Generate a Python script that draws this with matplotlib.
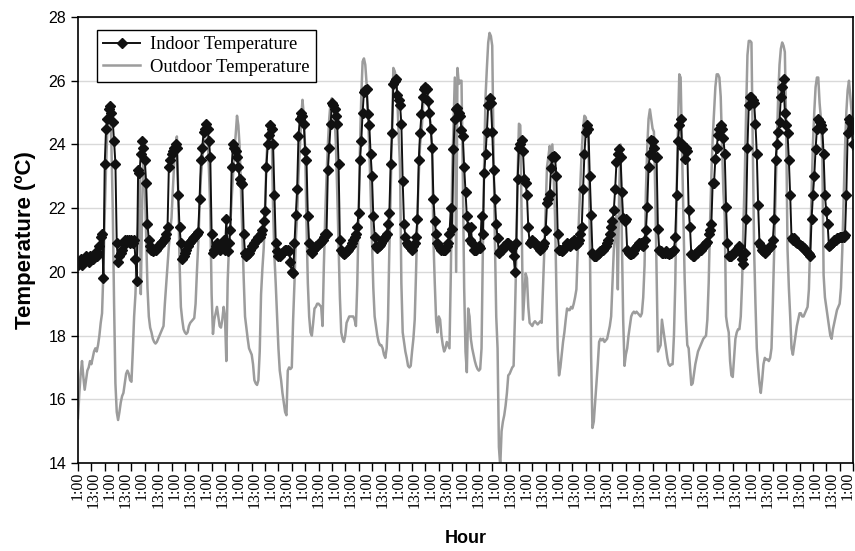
import matplotlib
matplotlib.use("Agg")
import matplotlib.pyplot as plt
import numpy as np

# hourly readings, one row per 24 h (starting 1:00)
indoor_temp = [
    20.2, 20.3, 20.4, 20.2, 20.3, 20.4, 20.5, 20.4, 20.3, 20.5, 20.4, 20.4, 20.5, 20.6, 20.5, 20.6, 20.8, 21.1, 21.2, 19.8, 23.4, 24.5, 24.8, 25.1,
    25.2, 25.0, 24.7, 24.1, 23.4, 20.9, 20.3, 20.5, 20.6, 20.7, 20.9, 21.0, 20.9, 21.0, 21.0, 20.9, 21.0, 20.9, 21.0, 20.4, 19.7, 23.2, 23.1, 23.7,
    24.1, 23.9, 23.5, 22.8, 21.5, 21.0, 20.8, 20.7, 20.65, 20.7, 20.7, 20.75, 20.8, 20.85, 20.9, 20.95, 21.0, 21.05, 21.2, 21.4, 23.3, 23.5, 23.7, 23.8,
    23.9, 24.0, 23.9, 22.4, 21.4, 20.9, 20.4, 20.5, 20.6, 20.7, 20.8, 20.9, 20.95, 21.0, 21.05, 21.1, 21.15, 21.2, 21.25, 22.3, 23.5, 23.9, 24.4, 24.5,
    24.65, 24.5, 24.1, 23.6, 21.2, 20.6, 20.7, 20.8, 20.9, 20.8, 20.7, 20.8, 20.9, 21.0, 20.7, 21.65, 20.65, 20.9, 21.3, 23.3, 24.0, 23.9, 23.8, 23.6,
    23.3, 22.9, 22.8, 22.75, 21.2, 20.6, 20.5, 20.55, 20.6, 20.7, 20.8, 20.8, 20.9, 21.0, 21.0, 21.1, 21.1, 21.2, 21.3, 21.6, 21.9, 23.3, 24.0, 24.3,
    24.6, 24.5, 24.0, 22.4, 20.9, 20.65, 20.5, 20.5, 20.55, 20.6, 20.65, 20.7, 20.7, 20.7, 20.65, 20.3, 20.0, 19.95, 20.9, 21.8, 22.6, 24.25, 24.8, 25.0,
    24.9, 24.65, 23.8, 23.5, 21.75, 20.9, 20.65, 20.6, 20.7, 20.75, 20.8, 20.8, 20.9, 20.9, 20.95, 21.0, 21.1, 21.2, 21.2, 23.2, 23.9, 24.65, 25.3, 25.25,
    25.1, 24.9, 24.65, 23.4, 21.0, 20.7, 20.6, 20.55, 20.6, 20.65, 20.7, 20.75, 20.8, 20.9, 21.0, 21.1, 21.2, 21.4, 21.85, 23.5, 24.1, 25.0, 25.65, 25.7,
    25.75, 24.95, 24.6, 23.7, 23.0, 21.75, 21.1, 20.8, 20.75, 20.8, 20.85, 20.9, 21.0, 21.05, 21.1, 21.2, 21.5, 21.85, 23.4, 24.35, 25.9, 26.0, 26.05, 25.55,
    25.4, 25.25, 24.65, 22.85, 21.5, 21.1, 20.9, 20.85, 20.8, 20.75, 20.7, 20.8, 20.9, 21.1, 21.65, 23.5, 24.35, 24.95, 25.5, 25.75, 25.8, 25.75, 25.35, 25.0,
    24.5, 23.9, 22.3, 21.6, 21.2, 20.9, 20.8, 20.75, 20.7, 20.7, 20.7, 20.7, 20.8, 20.9, 21.2, 22.0, 21.35, 23.85, 24.8, 25.1, 25.15, 25.0, 24.9, 24.45,
    24.25, 23.3, 22.5, 21.75, 21.4, 21.0, 21.4, 20.9, 20.7, 20.7, 20.7, 20.75, 20.8, 20.75, 21.75, 21.2, 23.1, 23.7, 24.4, 25.25, 25.45, 25.3, 24.4, 23.2,
    22.3, 21.5, 21.05, 20.6, 20.65, 20.7, 20.75, 20.8, 20.85, 20.9, 20.9, 20.85, 20.8, 20.75, 20.5, 20.0, 20.9, 22.9, 23.9, 24.0, 24.15, 23.8, 22.9, 22.8,
    22.4, 21.4, 20.9, 20.95, 21.0, 20.95, 20.9, 20.85, 20.8, 20.75, 20.7, 20.75, 20.8, 20.9, 21.3, 22.15, 22.3, 22.45, 23.25, 23.6, 23.65, 23.6, 23.0, 21.2,
    20.7, 20.7, 20.65, 20.7, 20.75, 20.8, 20.9, 20.85, 20.8, 20.9, 20.95, 21.0, 20.9, 20.85, 20.9, 21.0, 21.2, 21.4, 22.6, 23.7, 24.4, 24.6, 24.5, 23.0,
    21.8, 20.6, 20.5, 20.5, 20.5, 20.55, 20.6, 20.65, 20.7, 20.7, 20.75, 20.8, 20.9, 21.0, 21.2, 21.4, 21.6, 21.95, 22.6, 23.45, 23.7, 23.85, 23.6, 22.5,
    21.7, 21.6, 21.65, 20.7, 20.6, 20.55, 20.55, 20.6, 20.7, 20.75, 20.8, 20.85, 20.9, 20.9, 20.85, 20.8, 21.0, 21.3, 22.05, 23.3, 23.7, 24.15, 24.1, 23.9,
    23.6, 23.6, 21.35, 20.7, 20.65, 20.6, 20.6, 20.6, 20.65, 20.6, 20.55, 20.6, 20.6, 20.65, 20.7, 21.1, 22.4, 24.1, 24.6, 24.8, 24.0, 23.9, 23.55, 23.9,
    23.8, 21.95, 21.4, 20.55, 20.5, 20.5, 20.55, 20.6, 20.65, 20.7, 20.7, 20.75, 20.8, 20.85, 20.9, 20.95, 21.2, 21.3, 21.5, 22.8, 22.8, 23.55, 23.9, 24.3,
    24.5, 24.6, 24.5, 24.2, 23.7, 22.05, 20.9, 20.5, 20.5, 20.5, 20.55, 20.6, 20.65, 20.7, 20.75, 20.8, 20.6, 20.4, 20.25, 20.6, 21.65, 23.9, 25.25, 25.5,
    25.5, 25.4, 25.3, 24.65, 23.7, 22.1, 20.9, 20.8, 20.7, 20.65, 20.6, 20.65, 20.7, 20.75, 20.8, 20.8, 21.0, 21.65, 23.5, 24.0, 24.4, 24.7, 25.5, 25.8,
    26.05, 25.0, 24.6, 24.35, 23.5, 22.4, 21.05, 21.0, 21.05, 20.95, 20.9, 20.9, 20.85, 20.8, 20.8, 20.75, 20.7, 20.65, 20.6, 20.55, 20.5, 21.65, 22.4, 23.0,
    23.85, 24.5, 24.8, 24.7, 24.6, 24.5, 23.7, 22.4, 21.9, 21.5, 20.8, 20.85, 20.9, 20.95, 21.0, 21.0, 21.05, 21.05, 21.1, 21.1, 21.1, 21.1, 21.15, 22.4,
    24.35, 24.8, 24.7, 24.5, 24.0,
]

outdoor_temp = [
    15.4, 16.2, 16.8, 17.2, 16.7, 16.3, 16.6, 16.9, 17.0, 17.2, 17.1, 17.3, 17.5, 17.6, 17.5, 17.7, 18.0, 18.4, 18.7, 20.0, 21.8, 23.3, 24.5, 25.0,
    25.0, 24.0, 22.0, 19.0, 16.5, 15.6, 15.35, 15.6, 15.9, 16.1, 16.2, 16.5, 16.8, 16.9, 16.8, 16.6, 16.55, 17.5, 18.6, 19.3, 20.5, 21.4, 23.2, 19.3,
    22.0, 24.1, 22.8, 21.2, 19.5, 18.6, 18.25, 18.1, 17.9, 17.8, 17.75, 17.8, 17.9, 18.0, 18.1, 18.2, 18.3, 19.0, 19.6, 20.2, 20.8, 21.3, 21.7, 22.6,
    23.4, 24.0, 24.25, 22.5, 20.3, 18.9, 18.5, 18.2, 18.1, 18.05, 18.1, 18.3, 18.4, 18.45, 18.5, 18.55, 19.0, 20.0, 20.9, 22.0, 23.0, 23.5, 24.0, 24.4,
    24.5, 24.3, 23.2, 21.9, 19.3, 18.05, 18.5, 18.7, 18.9, 18.6, 18.3, 18.25, 18.5, 18.9, 18.6, 17.2, 19.7, 20.8, 21.5, 22.3, 23.0, 23.8, 24.3, 24.9,
    24.6, 23.9, 22.6, 21.2, 19.8, 18.6, 18.25, 17.9, 17.6, 17.5, 17.4, 17.1, 16.6, 16.5, 16.45, 16.6, 17.5, 19.3, 20.1, 20.75, 22.0, 23.5, 24.2, 24.6,
    24.6, 24.3, 22.0, 20.5, 19.6, 18.6, 17.6, 16.9, 16.6, 16.2, 15.9, 15.6, 15.5, 16.9, 17.0, 16.95, 17.0, 18.5, 19.65, 21.0, 21.75, 23.0, 23.85, 24.8,
    25.4, 24.9, 23.85, 21.5, 19.65, 18.6, 18.1, 18.0, 18.4, 18.85, 18.9, 19.0, 19.0, 18.95, 18.9, 18.3, 20.2, 21.75, 23.0, 24.0, 24.8, 25.3, 25.45, 25.2,
    24.9, 24.0, 22.5, 20.8, 19.2, 18.1, 17.9, 17.8, 18.0, 18.4, 18.5, 18.6, 18.6, 18.6, 18.6, 18.5, 18.3, 19.6, 21.75, 23.85, 25.5, 26.6, 26.7, 26.5,
    25.9, 25.0, 23.85, 22.5, 21.0, 19.5, 18.6, 18.3, 18.0, 17.8, 17.7, 17.7, 17.6, 17.4, 17.3, 17.6, 18.5, 20.7, 22.5, 24.5, 26.4, 26.3, 26.1, 25.4,
    24.3, 23.3, 19.65, 18.1, 17.8, 17.5, 17.3, 17.05, 17.0, 17.05, 17.5, 17.9, 18.5, 20.0, 21.75, 23.0, 24.0, 24.35, 25.0, 25.8, 25.9, 25.8, 25.5, 25.0,
    24.5, 23.85, 21.0, 19.65, 18.5, 18.1, 18.6, 18.5, 18.0, 17.7, 17.5, 17.6, 17.8, 17.7, 17.6, 19.9, 23.0, 24.5, 26.1, 20.0, 26.4, 25.9, 26.0, 26.0,
    23.0, 19.5, 17.5, 16.85, 18.85, 18.6, 17.9, 17.6, 17.4, 17.2, 17.05, 16.95, 16.9, 16.95, 17.6, 20.7, 23.5, 25.5, 26.4, 27.2, 27.5, 27.4, 27.1, 23.85,
    21.0, 18.6, 17.6, 14.5, 13.9, 15.0, 15.3, 15.5, 15.8, 16.2, 16.75, 16.8, 16.9, 17.0, 17.05, 18.6, 20.5, 23.0, 24.65, 24.6, 21.75, 18.5, 19.2, 19.95,
    19.8, 18.9, 18.4, 18.35, 18.3, 18.4, 18.45, 18.4, 18.35, 18.4, 18.45, 18.4, 19.5, 20.7, 22.0, 23.3, 23.6, 23.95, 23.1, 24.0, 23.0, 21.75, 19.5, 17.6,
    16.75, 17.0, 17.4, 17.8, 18.1, 18.5, 18.85, 18.8, 18.8, 18.9, 18.85, 19.0, 19.2, 19.45, 20.6, 21.8, 22.8, 23.8, 24.5, 24.9, 24.85, 24.6, 24.0, 21.2,
    17.4, 15.1, 15.3, 15.9, 16.5, 17.1, 17.8, 17.9, 17.85, 17.9, 17.8, 17.85, 17.9, 18.1, 18.3, 18.6, 19.65, 20.7, 21.2, 21.75, 19.45, 22.5, 24.0, 21.1,
    18.5, 17.05, 17.4, 17.6, 18.0, 18.3, 18.6, 18.7, 18.75, 18.7, 18.75, 18.7, 18.65, 18.6, 18.7, 19.2, 20.2, 22.5, 23.9, 24.8, 25.1, 24.8, 24.5, 24.4,
    22.5, 19.9, 17.5, 17.6, 17.7, 18.5, 18.2, 17.9, 17.6, 17.3, 17.1, 17.05, 17.1, 17.1, 18.0, 19.65, 22.5, 24.5, 26.2, 26.1, 24.0, 21.75, 19.8, 18.5,
    17.7, 17.6, 17.0, 16.45, 16.5, 16.8, 17.1, 17.3, 17.5, 17.6, 17.7, 17.8, 17.9, 17.95, 18.0, 18.5, 19.65, 21.5, 23.0, 24.2, 25.0, 25.8, 26.2, 26.2,
    26.1, 25.5, 24.0, 22.5, 21.75, 18.6, 18.3, 18.1, 17.2, 16.75, 16.7, 17.3, 17.9, 18.1, 18.2, 18.2, 18.6, 19.65, 21.5, 23.0, 25.0, 26.8, 27.25, 27.25,
    27.2, 24.0, 20.7, 19.0, 17.6, 17.0, 16.5, 16.2, 16.6, 17.1, 17.3, 17.25, 17.25, 17.2, 17.3, 17.6, 19.0, 20.7, 22.5, 24.0, 25.5, 26.5, 27.0, 27.2,
    27.1, 26.9, 24.5, 20.7, 19.5, 18.6, 17.6, 17.4, 17.7, 18.0, 18.3, 18.5, 18.7, 18.7, 18.6, 18.6, 18.7, 18.8, 18.9, 19.45, 21.0, 22.5, 24.0, 25.0,
    25.8, 26.1, 26.1, 25.3, 24.8, 23.85, 19.9, 19.2, 18.9, 18.6, 18.3, 18.0, 17.9, 18.2, 18.4, 18.6, 18.8, 18.9, 19.0, 19.5, 20.7, 22.3, 23.85, 25.0,
    25.7, 26.0, 25.5, 25.0, 23.85,
]

hour_labels = ["1:00", "13:00"] * 24 + ["1:00"]

serif = "Liberation Serif"
sans = "Liberation Sans"

fig = plt.figure(figsize=(8.55, 5.51), dpi=100)
ax = fig.add_axes([78 / 855, 1 - 463 / 551, 775 / 855, 446 / 551])

hours = np.arange(len(indoor_temp))
out_hours = np.arange(len(outdoor_temp))

ax.plot(out_hours, outdoor_temp, color="#9c9c9c", lw=1.8, zorder=2,
        label="Outdoor Temperature")
ax.plot(hours, indoor_temp, color="#111111", lw=1.4, marker="D", ms=4.6,
        zorder=3, label="Indoor Temperature")

ax.set_xlim(0, 580)
ax.set_ylim(14, 28)
ax.set_yticks(np.arange(14, 29, 2))
ax.yaxis.grid(True, color="#d9d9d9", lw=1.0)
ax.set_axisbelow(True)

# tick marks every 10 h, labels every 12 h
ax.xaxis.remove_overlapping_locs = False
ax.set_xticks(np.arange(0, 581, 10))
ax.set_xticklabels([])
ax.set_xticks(np.arange(0, len(hour_labels) * 12, 12), minor=True)
ax.set_xticklabels(hour_labels, minor=True, rotation=90, fontsize=11.5,
                   family=serif, va="top")
ax.tick_params(axis="x", which="major", direction="out", length=6, width=1)
ax.tick_params(axis="x", which="minor", length=0, pad=6)
ax.tick_params(axis="y", direction="out", length=5, width=1, labelsize=11.5)
for lbl in ax.get_yticklabels():
    lbl.set_family(sans)

for sp in ax.spines.values():
    sp.set_color("black")
    sp.set_linewidth(1.2)

ax.set_ylabel("Temperature (ºC)", fontsize=16, fontweight="bold",
              family=sans, labelpad=9)
ax.set_xlabel("Hour", fontsize=13, fontweight="bold", family=sans,
              labelpad=16)

handles, labels = ax.get_legend_handles_labels()
leg = ax.legend(handles[::-1], labels[::-1], loc="upper left",
                bbox_to_anchor=(0.0245, 0.971), borderaxespad=0,
                fancybox=False, framealpha=1, edgecolor="black",
                prop={"family": serif, "size": 13.3}, handlelength=2.0,
                borderpad=0.35, labelspacing=0.3, handletextpad=0.5)
leg.get_frame().set_linewidth(1.0)

fig.savefig("out.png", dpi=100)
